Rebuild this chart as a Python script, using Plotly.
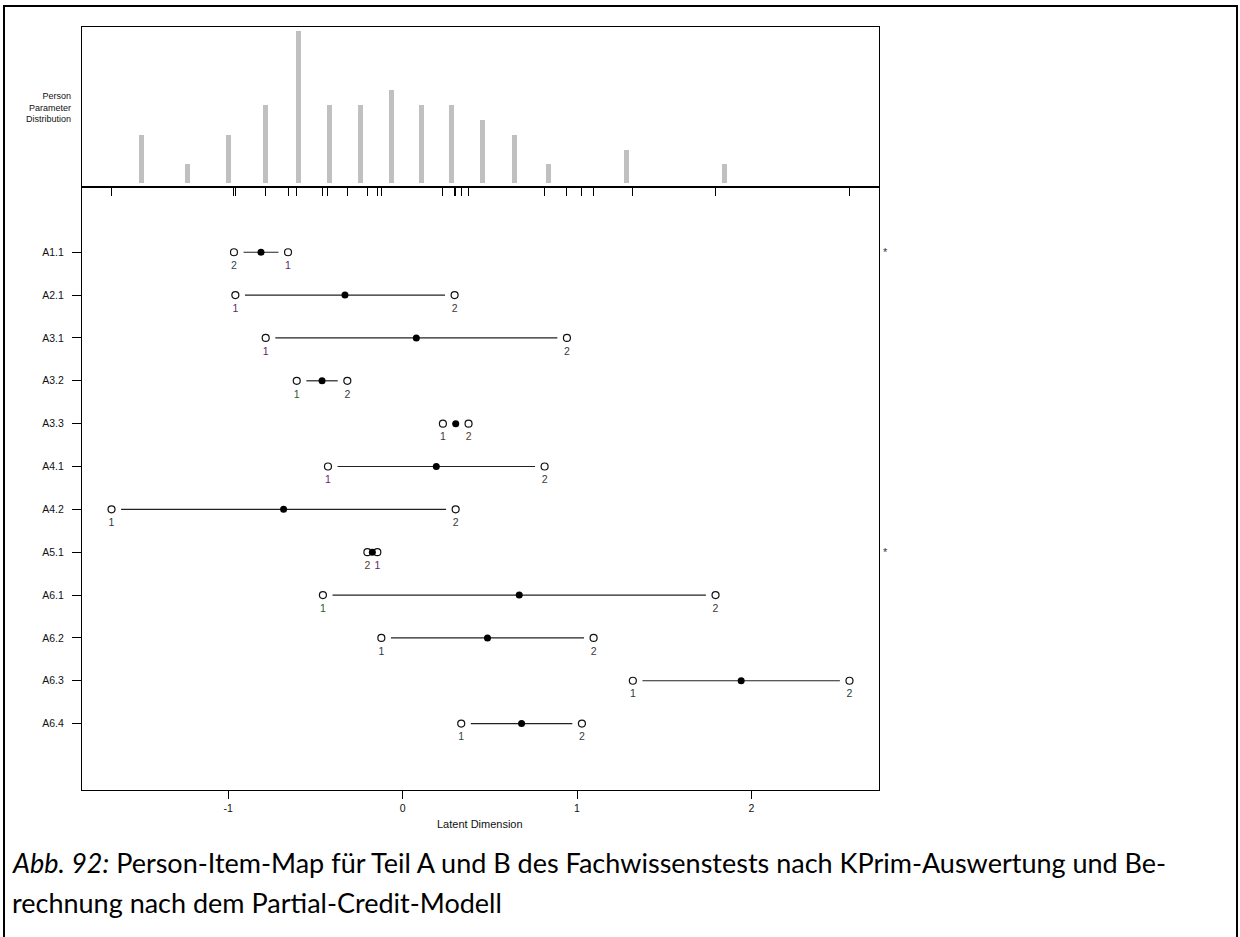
import plotly.graph_objects as go

# ---------------- data ----------------
items = ["A1.1", "A2.1", "A3.1", "A3.2", "A3.3", "A4.1", "A4.2",
         "A5.1", "A6.1", "A6.2", "A6.3", "A6.4"]
threshold1 = [-0.657, -0.959, -0.785, -0.607, 0.231, -0.428, -1.669,
              -0.145, -0.457, -0.122, 1.320, 0.336]
threshold2 = [-0.967, 0.298, 0.942, -0.317, 0.378, 0.814, 0.304,
              -0.202, 1.794, 1.095, 2.562, 1.028]

person_theta = [-1.496, -1.232, -0.997, -0.785, -0.596, -0.418, -0.241,
                -0.063, 0.109, 0.281, 0.458, 0.642, 0.837, 1.284, 1.845]
person_count = [3, 1, 3, 5, 10, 5, 5, 6, 5, 5, 4, 3, 1, 2, 1]

x_ticks = [-1, 0, 1, 2]

label1_colors = ["#5a2a6a", "#5a2a6a", "#5a2a6a", "#2a5a2a", "#3a3a3a", "#5a2a6a",
                 "#2a3a4a", "#5a2a6a", "#2a5a2a", "#2a3a4a", "#2a3a3a", "#2a4a2a"]
label2_colors = ["#2a4a5a", "#3a3a3a", "#3a3a3a", "#3a3a3a", "#5a3a2a", "#3a3a3a",
                 "#3a3a3a", "#5a3a2a", "#3a3a3a", "#3a3a3a", "#2a3a3a", "#3a3a3a"]

# ---------------- layout geometry ----------------
W, H = 1240, 937
def px_x(p):
    return p / W
def px_y(p):
    return 1 - p / H

all_vals = threshold1 + threshold2 + person_theta
lo, hi = min(all_vals), max(all_vals)
ext = 0.04 * (hi - lo)
xr = [lo - ext, hi + ext]

n = len(items)
ypos = [n - i for i in range(n)]  # A1.1 on top
loc = [(a + b) / 2 for a, b in zip(threshold1, threshold2)]

FONT = "Liberation Sans, Arial, sans-serif"
fig = go.Figure()

# person parameter distribution (top panel)
base = -0.28
fig.add_trace(go.Bar(
    x=person_theta, y=[c - base for c in person_count], base=base,
    width=0.03, marker=dict(color="#c0c0c0", line=dict(width=0)),
    xaxis="x", yaxis="y", showlegend=False, hoverinfo="skip"))

# item segments (with small gaps near the open circles)
gap = 0.055
for i in range(n):
    a, b = sorted([threshold1[i], threshold2[i]])
    if b - a > 2 * gap:
        fig.add_trace(go.Scatter(
            x=[a + gap, b - gap], y=[ypos[i], ypos[i]], mode="lines",
            line=dict(color="#222222", width=1.2),
            xaxis="x2", yaxis="y2", showlegend=False, hoverinfo="skip"))

# open circles at thresholds
fig.add_trace(go.Scatter(
    x=threshold1 + threshold2, y=ypos + ypos, mode="markers",
    marker=dict(symbol="circle-open", size=7, color="#111111", line=dict(width=1.2)),
    xaxis="x2", yaxis="y2", showlegend=False))

# filled dots at item location
fig.add_trace(go.Scatter(
    x=loc, y=ypos, mode="markers",
    marker=dict(symbol="circle", size=7, color="#000000"),
    xaxis="x2", yaxis="y2", showlegend=False))

# threshold labels
fig.add_trace(go.Scatter(
    x=threshold1, y=[y - 0.33 for y in ypos], mode="text",
    text=["1"] * n, textfont=dict(family=FONT, size=10.5, color=label1_colors),
    xaxis="x2", yaxis="y2", showlegend=False, hoverinfo="skip"))
fig.add_trace(go.Scatter(
    x=threshold2, y=[y - 0.33 for y in ypos], mode="text",
    text=["2"] * n, textfont=dict(family=FONT, size=10.5, color=label2_colors),
    xaxis="x2", yaxis="y2", showlegend=False, hoverinfo="skip"))

annotations = []
# stars for disordered thresholds
for i in range(n):
    if threshold1[i] > threshold2[i]:
        annotations.append(dict(
            x=px_x(885), xref="paper", y=ypos[i], yref="y2", text="*",
            showarrow=False, font=dict(family=FONT, size=11, color="#333333"),
            xanchor="center", yanchor="middle"))

annotations.append(dict(
    x=px_x(73), xref="paper", y=px_y(107), yref="paper",
    text="Person<br>Parameter<br>Distribution", showarrow=False, align="right",
    xanchor="right", yanchor="middle", font=dict(family=FONT, size=9, color="#111111")))

annotations.append(dict(
    x=px_x(480), xref="paper", y=px_y(824), yref="paper", text="Latent Dimension",
    showarrow=False, xanchor="center", yanchor="middle",
    font=dict(family=FONT, size=11, color="#111111")))

CAP = "Lato, Open Sans, sans-serif"
annotations.append(dict(
    x=px_x(10), xref="paper", y=px_y(862), yref="paper",
    text="<i>Abb. 92:</i> Person-Item-Map für Teil A und B des Fachwissenstests nach KPrim-Auswertung und Be-",
    showarrow=False, xanchor="left", yanchor="middle",
    font=dict(family=CAP, size=27, color="#000000")))
annotations.append(dict(
    x=px_x(10), xref="paper", y=px_y(902), yref="paper",
    text="rechnung nach dem Partial-Credit-Modell",
    showarrow=False, xanchor="left", yanchor="middle",
    font=dict(family=CAP, size=27, color="#000000")))

xdom = [px_x(82), px_x(879)]
top_dom = [px_y(186.7), px_y(27)]
bot_dom = [px_y(790), px_y(186.7)]

fig.update_layout(
    width=W, height=H, margin=dict(l=0, r=0, t=0, b=0),
    paper_bgcolor="white", plot_bgcolor="white",
    font=dict(family=FONT, color="#111111"),
    bargap=0, showlegend=False,
    xaxis=dict(domain=xdom, anchor="y", range=xr, showgrid=False, zeroline=False,
               showline=True, mirror=True, linecolor="#000000", linewidth=1,
               ticks="outside", tickvals=threshold1 + threshold2, ticklen=8,
               tickcolor="#000000", tickwidth=1, showticklabels=False),
    yaxis=dict(domain=top_dom, anchor="x", range=[-0.505, 10.25], showgrid=False,
               zeroline=False, showline=True, mirror=True, linecolor="#000000",
               linewidth=1, showticklabels=False, ticks=""),
    xaxis2=dict(domain=xdom, anchor="y2", range=xr, showgrid=False, zeroline=False,
                showline=True, mirror=True, linecolor="#000000", linewidth=1,
                ticks="outside", tickvals=x_ticks, ticktext=[str(t) for t in x_ticks],
                ticklen=8, tickcolor="#000000", tickwidth=1,
                tickfont=dict(family=FONT, size=10.5, color="#111111")),
    yaxis2=dict(domain=bot_dom, anchor="x2", range=[-0.55, 13.53], showgrid=False,
                zeroline=False, showline=True, mirror=True, linecolor="#000000",
                linewidth=1, ticks="outside", tickvals=ypos, ticktext=items,
                ticklen=9, tickcolor="#000000", tickwidth=1, ticklabelstandoff=6,
                tickfont=dict(family=FONT, size=10.5, color="#111111")),
    annotations=annotations,
    shapes=[dict(type="rect", xref="paper", yref="paper",
                 x0=px_x(4), x1=px_x(1237), y0=px_y(945), y1=px_y(6),
                 line=dict(color="#000000", width=2), fillcolor="rgba(0,0,0,0)")],
)

fig.write_html("out.html", config={"displayModeBar": False},
               post_script="document.body.style.margin='0';document.body.style.overflow='hidden';")
